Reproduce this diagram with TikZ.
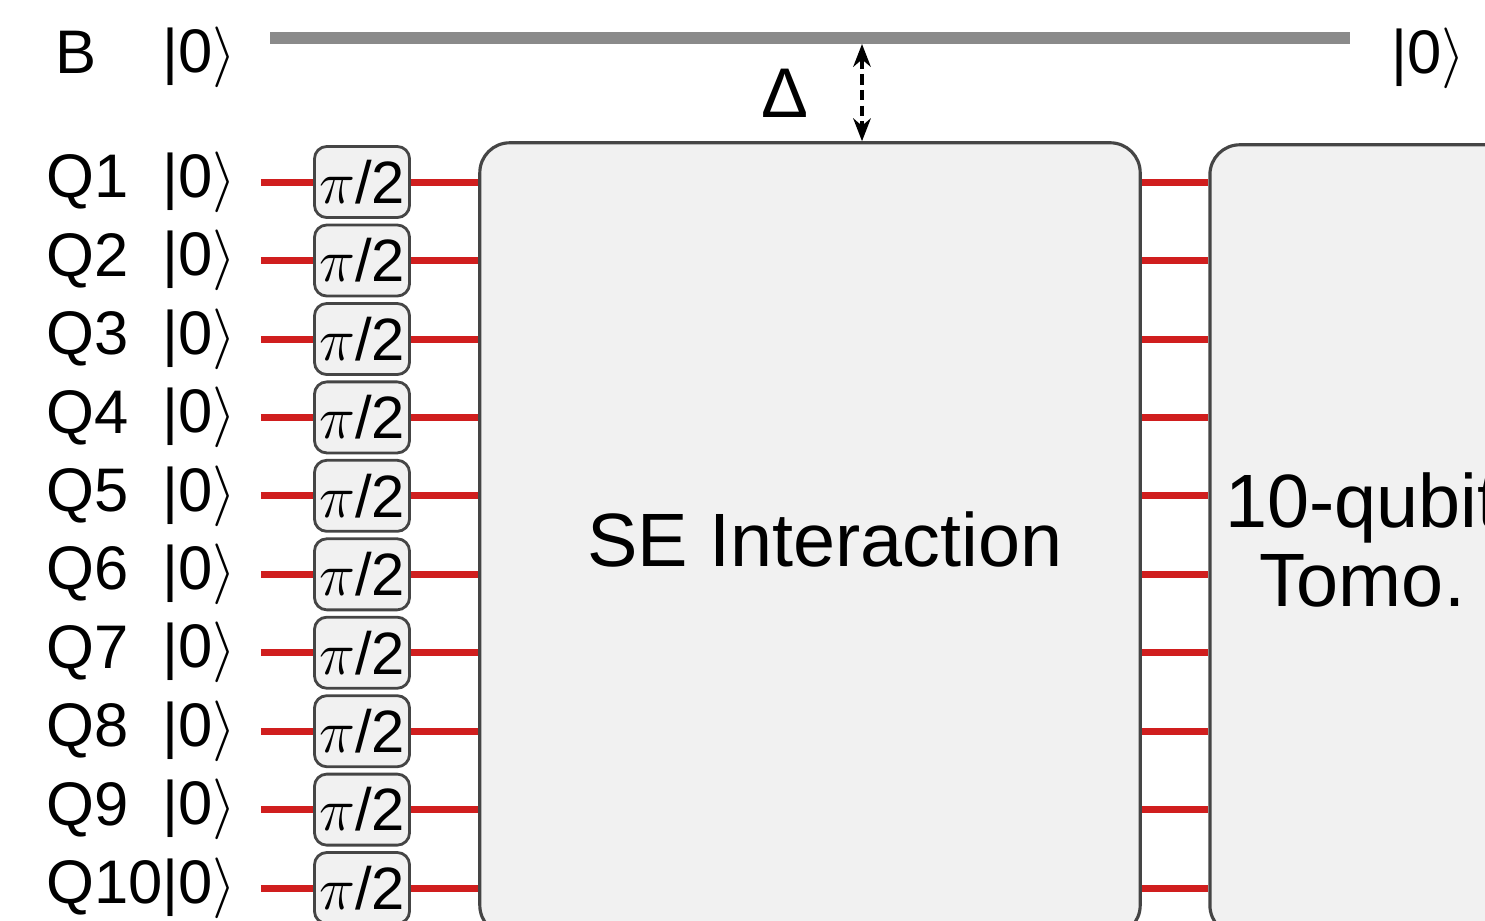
\documentclass[tikz,border=0pt]{standalone}
\usepackage{fontspec}
\setmainfont{Liberation Sans}
\usepackage{xcolor}
\usetikzlibrary{
  arrows.meta,
  positioning,
}

\definecolor{wirered}{HTML}{D01E1E}
\definecolor{boxgray}{HTML}{F1F1F1}
\definecolor{edgegray}{HTML}{454545}
\definecolor{bathgray}{HTML}{8A8A8A}

\begin{document}
\begin{tikzpicture}[
  x=0.01cm, y=-0.01cm,
  >=Stealth,
  qlabel/.style={anchor=west, inner sep=0pt, font=\fontsize{17.5}{19}\selectfont},
  ket/.style={inner sep=0pt, outer xsep=0.25cm, font=\fontsize{17.5}{19}\selectfont},
  gate/.style={
    draw=edgegray, line width=0.8pt, fill=boxgray, rounded corners=3.5pt,
    minimum width=0.95cm, minimum height=0.71cm, inner sep=0pt,
    font=\fontsize{17}{18}\selectfont,
  },
  bigbox/.style={
    draw=edgegray, line width=0.9pt, fill=boxgray, rounded corners=8.5pt,
    align=center, font=\fontsize{21.5}{22.5}\selectfont,
  },
  wire/.style={wirered, line width=2pt},
  bath/.style={bathgray, line width=3.4pt},
  gaparrow/.style={{Stealth[length=6.5pt,width=5pt]}-{Stealth[length=6.5pt,width=5pt]},
    dashed, dash pattern=on 3pt off 1.5pt, line width=0.9pt},
]

\clip (0,0) rectangle (1485,920);

% ── Bath qubit ──────────────────────────────────────────────────────
\node[qlabel] (blabel) at (55,52) {B};
\node[ket] (bket) at (199,57) {|0$\rangle$};
\node[ket] (bout) at (1428,58) {|0$\rangle$};
\coordinate (bstart) at (270,38);
\coordinate (bend) at (1350,38);

% ── Blocks ──────────────────────────────────────────────────────────
\node[bigbox, minimum width=6.6cm, minimum height=7.92cm] (se) at (810,539)
  {\hspace*{0.3cm}SE Interaction};
\node[bigbox, minimum width=3.04cm, minimum height=7.9cm] (tomo) at (1362,540)
  {10-qubit\\Tomo.};
\node[font=\fontsize{20}{22}\selectfont] (delta) at (785,93) {Δ};
\coordinate (gap) at (862,44);

% ── System qubits ───────────────────────────────────────────────────
\node[qlabel] (q1) at (46,182) {Q1};
\node[ket] (k1) at (199,182) {|0$\rangle$};
\node[gate] (g1) at (362,182) {$\pi$/2};

\node[qlabel] (q2) at (46,260.5) {Q2};
\node[ket] (k2) at (199,260.5) {|0$\rangle$};
\node[gate] (g2) at (362,260.5) {$\pi$/2};

\node[qlabel] (q3) at (46,339) {Q3};
\node[ket] (k3) at (199,339) {|0$\rangle$};
\node[gate] (g3) at (362,339) {$\pi$/2};

\node[qlabel] (q4) at (46,417.4) {Q4};
\node[ket] (k4) at (199,417.4) {|0$\rangle$};
\node[gate] (g4) at (362,417.4) {$\pi$/2};

\node[qlabel] (q5) at (46,495.8) {Q5};
\node[ket] (k5) at (199,495.8) {|0$\rangle$};
\node[gate] (g5) at (362,495.8) {$\pi$/2};

\node[qlabel] (q6) at (46,574.3) {Q6};
\node[ket] (k6) at (199,574.3) {|0$\rangle$};
\node[gate] (g6) at (362,574.3) {$\pi$/2};

\node[qlabel] (q7) at (46,652.7) {Q7};
\node[ket] (k7) at (199,652.7) {|0$\rangle$};
\node[gate] (g7) at (362,652.7) {$\pi$/2};

\node[qlabel] (q8) at (46,731.2) {Q8};
\node[ket] (k8) at (199,731.2) {|0$\rangle$};
\node[gate] (g8) at (362,731.2) {$\pi$/2};

\node[qlabel] (q9) at (46,809.6) {Q9};
\node[ket] (k9) at (199,809.6) {|0$\rangle$};
\node[gate] (g9) at (362,809.6) {$\pi$/2};

\node[qlabel] (q10) at (46,888) {Q10};
\node[ket] (k10) at (199,888) {|0$\rangle$};
\node[gate] (g10) at (362,888) {$\pi$/2};

% ── Connections ─────────────────────────────────────────────────────
\draw[bath] (bstart) -- (bend);
\draw[gaparrow] (gap) -- (gap |- se.north);

\draw[wire] (k1.east) -- (g1.west) (g1.east) -- (g1 -| se.west) (se.east |- g1) -- (tomo.west |- g1);
\draw[wire] (k2.east) -- (g2.west) (g2.east) -- (g2 -| se.west) (se.east |- g2) -- (tomo.west |- g2);
\draw[wire] (k3.east) -- (g3.west) (g3.east) -- (g3 -| se.west) (se.east |- g3) -- (tomo.west |- g3);
\draw[wire] (k4.east) -- (g4.west) (g4.east) -- (g4 -| se.west) (se.east |- g4) -- (tomo.west |- g4);
\draw[wire] (k5.east) -- (g5.west) (g5.east) -- (g5 -| se.west) (se.east |- g5) -- (tomo.west |- g5);
\draw[wire] (k6.east) -- (g6.west) (g6.east) -- (g6 -| se.west) (se.east |- g6) -- (tomo.west |- g6);
\draw[wire] (k7.east) -- (g7.west) (g7.east) -- (g7 -| se.west) (se.east |- g7) -- (tomo.west |- g7);
\draw[wire] (k8.east) -- (g8.west) (g8.east) -- (g8 -| se.west) (se.east |- g8) -- (tomo.west |- g8);
\draw[wire] (k9.east) -- (g9.west) (g9.east) -- (g9 -| se.west) (se.east |- g9) -- (tomo.west |- g9);
\draw[wire] (k10.east) -- (g10.west) (g10.east) -- (g10 -| se.west) (se.east |- g10) -- (tomo.west |- g10);

\end{tikzpicture}
\end{document}
